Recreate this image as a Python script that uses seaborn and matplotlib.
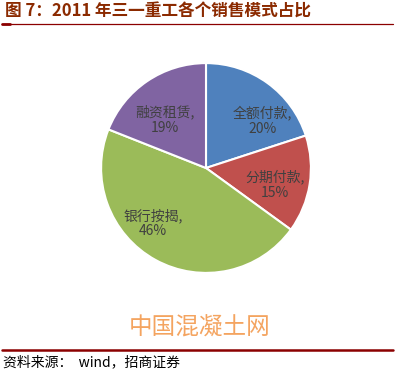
import matplotlib
matplotlib.use("Agg")
import matplotlib.pyplot as plt
import seaborn as sns
import numpy as np
from matplotlib.lines import Line2D

categories = ["全额付款", "分期付款", "银行按揭", "融资租赁"]
values = [20, 15, 46, 19]
colors = ["#4F81BD", "#C0504D", "#9BBB59", "#8064A2"]

sns.set_theme(style="white")
plt.rcParams['font.family'] = ['Noto Sans CJK SC', 'DejaVu Sans']

W, H = 398, 370
fig = plt.figure(figsize=(W / 100, H / 100), dpi=100)
fig.patch.set_facecolor("white")

cx, cy, r = 206, 168, 107
ax = fig.add_axes([(cx - r) / W, (H - cy - r) / H, 2 * r / W, 2 * r / H])
labels = [f"{c},\n{v}%" for c, v in zip(categories, values)]
wedges, texts = ax.pie(values, colors=colors, startangle=90, counterclock=False,
                       labels=labels, labeldistance=0.68,
                       wedgeprops=dict(edgecolor="white", linewidth=1.5),
                       textprops=dict(fontsize=10, color="#404040", ha="center", va="center",
                                      linespacing=1.1))
# label placement similar to the Excel "best fit" layout
angle_shift = [-14, -4.5, -15, 6]
dist = [0.70, 0.68, 0.73, 0.60]
for w, t, da, d in zip(wedges, texts, angle_shift, dist):
    mid = np.deg2rad((w.theta1 + w.theta2) / 2 + da)
    t.set_position((d * np.cos(mid), d * np.sin(mid)))
    t.set_ha("center")

ax.set_xlim(-1.02, 1.02)
ax.set_ylim(-1.02, 1.02)
ax.set_aspect("equal")
ax.axis("off")

title_color = "#8B2A00"
fig.text(5 / W, 1 - 12 / H, "图 7：2011 年三一重工各个销售模式占比", fontsize=12,
         fontweight="bold", color=title_color, ha="left", va="center")
fig.add_artist(Line2D([2 / W, 393 / W], [1 - 23.5 / H, 1 - 23.5 / H], color="#8B0000", lw=0.9))
fig.add_artist(Line2D([2 / W, 10 / W], [1 - 24 / H, 1 - 24 / H], color="#8B0000", lw=2))

fig.text(200 / W, 1 - 328 / H, "中国混凝土网", fontsize=17, color="#F4A460",
         ha="center", va="center")
fig.add_artist(Line2D([2 / W, 393 / W], [1 - 349.5 / H, 1 - 349.5 / H], color="#8B0000", lw=1.8))
fig.text(3 / W, 1 - 362 / H, "资料来源：  wind，招商证券", fontsize=10, color="black",
         ha="left", va="center")

fig.savefig("out.png", dpi=100, facecolor="white")
